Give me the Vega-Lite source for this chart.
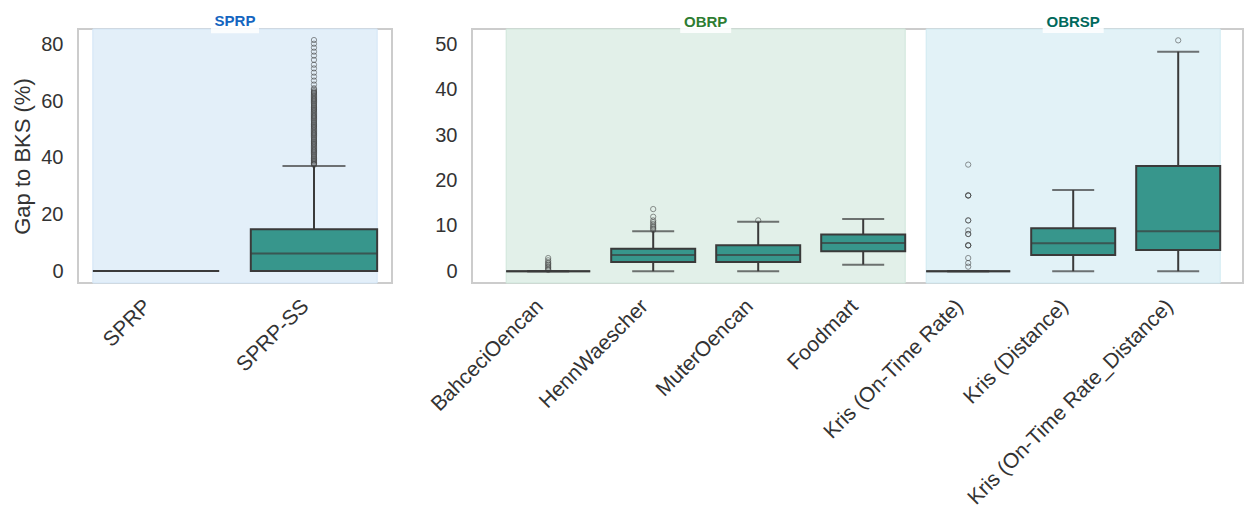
{
  "$schema": "https://vega.github.io/schema/vega-lite/v6.json",
  "autosize": {"type": "pad"},
  "padding": {"left": 10, "top": 11, "right": 0, "bottom": 0},
  "background": "white",
  "bounds": "flush",
  "spacing": 80,
  "config": {
    "font": "Liberation Sans",
    "view": {"stroke": "#cccccc", "strokeWidth": 2},
    "axis": {"grid": false, "domain": false, "ticks": false, "tickSize": 0, "labelFontSize": 20, "labelColor": "#333333", "titleColor": "#333333", "titleFontSize": 22, "titleFontWeight": "normal", "labelPadding": 15, "labelLimit": 400}
  },
  "datasets": {
    "stats": [
      {"panel": "SPRP", "cat": "SPRP", "lo": 0, "q1": 0, "med": 0, "q3": 0, "hi": 0},
      {"panel": "SPRP", "cat": "SPRP-SS", "lo": 0, "q1": 0, "med": 6.2, "q3": 14.8, "hi": 37.1},
      {"panel": "R", "cat": "BahceciOencan", "lo": 0, "q1": 0, "med": 0, "q3": 0, "hi": 0},
      {"panel": "R", "cat": "HennWaescher", "lo": 0, "q1": 2.05, "med": 3.55, "q3": 4.95, "hi": 8.8},
      {"panel": "R", "cat": "MuterOencan", "lo": 0, "q1": 2.05, "med": 3.55, "q3": 5.75, "hi": 10.9},
      {"panel": "R", "cat": "Foodmart", "lo": 1.45, "q1": 4.4, "med": 6.2, "q3": 8.1, "hi": 11.5},
      {"panel": "R", "cat": "Kris (On-Time Rate)", "lo": 0, "q1": 0, "med": 0, "q3": 0, "hi": 0},
      {"panel": "R", "cat": "Kris (Distance)", "lo": 0, "q1": 3.55, "med": 6.15, "q3": 9.45, "hi": 17.9},
      {"panel": "R", "cat": "Kris (On-Time Rate_Distance)", "lo": 0, "q1": 4.7, "med": 8.8, "q3": 23.2, "hi": 48.4}
    ],
    "outliers": [
      {"panel": "SPRP", "cat": "SPRP-SS", "v": 81.5}, {"panel": "SPRP", "cat": "SPRP-SS", "v": 80.2}, {"panel": "SPRP", "cat": "SPRP-SS", "v": 78.8}, {"panel": "SPRP", "cat": "SPRP-SS", "v": 77.4}, {"panel": "SPRP", "cat": "SPRP-SS", "v": 76.0}, {"panel": "SPRP", "cat": "SPRP-SS", "v": 74.5}, {"panel": "SPRP", "cat": "SPRP-SS", "v": 72.8}, {"panel": "SPRP", "cat": "SPRP-SS", "v": 71.5}, {"panel": "SPRP", "cat": "SPRP-SS", "v": 70.0}, {"panel": "SPRP", "cat": "SPRP-SS", "v": 68.6}, {"panel": "SPRP", "cat": "SPRP-SS", "v": 67.2}, {"panel": "SPRP", "cat": "SPRP-SS", "v": 65.8},
      {"panel": "SPRP", "cat": "SPRP-SS", "v": 64.5}, {"panel": "SPRP", "cat": "SPRP-SS", "v": 63.5}, {"panel": "SPRP", "cat": "SPRP-SS", "v": 62.8}, {"panel": "SPRP", "cat": "SPRP-SS", "v": 62.0}, {"panel": "SPRP", "cat": "SPRP-SS", "v": 61.2}, {"panel": "SPRP", "cat": "SPRP-SS", "v": 60.5}, {"panel": "SPRP", "cat": "SPRP-SS", "v": 59.8}, {"panel": "SPRP", "cat": "SPRP-SS", "v": 59.0}, {"panel": "SPRP", "cat": "SPRP-SS", "v": 58.2}, {"panel": "SPRP", "cat": "SPRP-SS", "v": 57.5}, {"panel": "SPRP", "cat": "SPRP-SS", "v": 56.8}, {"panel": "SPRP", "cat": "SPRP-SS", "v": 56.0},
      {"panel": "SPRP", "cat": "SPRP-SS", "v": 55.2}, {"panel": "SPRP", "cat": "SPRP-SS", "v": 54.5}, {"panel": "SPRP", "cat": "SPRP-SS", "v": 53.8}, {"panel": "SPRP", "cat": "SPRP-SS", "v": 53.0}, {"panel": "SPRP", "cat": "SPRP-SS", "v": 52.2}, {"panel": "SPRP", "cat": "SPRP-SS", "v": 51.5}, {"panel": "SPRP", "cat": "SPRP-SS", "v": 50.8}, {"panel": "SPRP", "cat": "SPRP-SS", "v": 50.0}, {"panel": "SPRP", "cat": "SPRP-SS", "v": 49.2}, {"panel": "SPRP", "cat": "SPRP-SS", "v": 48.5}, {"panel": "SPRP", "cat": "SPRP-SS", "v": 47.8}, {"panel": "SPRP", "cat": "SPRP-SS", "v": 47.0},
      {"panel": "SPRP", "cat": "SPRP-SS", "v": 46.2}, {"panel": "SPRP", "cat": "SPRP-SS", "v": 45.5}, {"panel": "SPRP", "cat": "SPRP-SS", "v": 44.8}, {"panel": "SPRP", "cat": "SPRP-SS", "v": 44.0}, {"panel": "SPRP", "cat": "SPRP-SS", "v": 43.2}, {"panel": "SPRP", "cat": "SPRP-SS", "v": 42.5}, {"panel": "SPRP", "cat": "SPRP-SS", "v": 41.8}, {"panel": "SPRP", "cat": "SPRP-SS", "v": 41.0}, {"panel": "SPRP", "cat": "SPRP-SS", "v": 40.2}, {"panel": "SPRP", "cat": "SPRP-SS", "v": 39.5}, {"panel": "SPRP", "cat": "SPRP-SS", "v": 38.8}, {"panel": "SPRP", "cat": "SPRP-SS", "v": 38.0}, {"panel": "SPRP", "cat": "SPRP-SS", "v": 37.5},
      {"panel": "SPRP", "cat": "SPRP-SS", "v": 37.8}, {"panel": "SPRP", "cat": "SPRP-SS", "v": 38.4}, {"panel": "SPRP", "cat": "SPRP-SS", "v": 39.1}, {"panel": "SPRP", "cat": "SPRP-SS", "v": 39.8}, {"panel": "SPRP", "cat": "SPRP-SS", "v": 40.6}, {"panel": "SPRP", "cat": "SPRP-SS", "v": 41.4}, {"panel": "SPRP", "cat": "SPRP-SS", "v": 42.1}, {"panel": "SPRP", "cat": "SPRP-SS", "v": 42.8}, {"panel": "SPRP", "cat": "SPRP-SS", "v": 43.6}, {"panel": "SPRP", "cat": "SPRP-SS", "v": 44.4}, {"panel": "SPRP", "cat": "SPRP-SS", "v": 45.1}, {"panel": "SPRP", "cat": "SPRP-SS", "v": 45.8},
      {"panel": "SPRP", "cat": "SPRP-SS", "v": 46.6}, {"panel": "SPRP", "cat": "SPRP-SS", "v": 47.4}, {"panel": "SPRP", "cat": "SPRP-SS", "v": 48.1}, {"panel": "SPRP", "cat": "SPRP-SS", "v": 48.8}, {"panel": "SPRP", "cat": "SPRP-SS", "v": 49.6}, {"panel": "SPRP", "cat": "SPRP-SS", "v": 50.4}, {"panel": "SPRP", "cat": "SPRP-SS", "v": 51.1}, {"panel": "SPRP", "cat": "SPRP-SS", "v": 51.8}, {"panel": "SPRP", "cat": "SPRP-SS", "v": 52.6}, {"panel": "SPRP", "cat": "SPRP-SS", "v": 53.4}, {"panel": "SPRP", "cat": "SPRP-SS", "v": 54.1}, {"panel": "SPRP", "cat": "SPRP-SS", "v": 54.8},
      {"panel": "SPRP", "cat": "SPRP-SS", "v": 55.6}, {"panel": "SPRP", "cat": "SPRP-SS", "v": 56.4}, {"panel": "SPRP", "cat": "SPRP-SS", "v": 57.1}, {"panel": "SPRP", "cat": "SPRP-SS", "v": 57.8}, {"panel": "SPRP", "cat": "SPRP-SS", "v": 58.6}, {"panel": "SPRP", "cat": "SPRP-SS", "v": 59.4}, {"panel": "SPRP", "cat": "SPRP-SS", "v": 60.1}, {"panel": "SPRP", "cat": "SPRP-SS", "v": 60.8}, {"panel": "SPRP", "cat": "SPRP-SS", "v": 61.6}, {"panel": "SPRP", "cat": "SPRP-SS", "v": 62.4}, {"panel": "SPRP", "cat": "SPRP-SS", "v": 63.1}, {"panel": "SPRP", "cat": "SPRP-SS", "v": 64.0},
      {"panel": "R", "cat": "BahceciOencan", "v": 2.9}, {"panel": "R", "cat": "BahceciOencan", "v": 2.4}, {"panel": "R", "cat": "BahceciOencan", "v": 2.0}, {"panel": "R", "cat": "BahceciOencan", "v": 1.7}, {"panel": "R", "cat": "BahceciOencan", "v": 1.4}, {"panel": "R", "cat": "BahceciOencan", "v": 1.1}, {"panel": "R", "cat": "BahceciOencan", "v": 0.8}, {"panel": "R", "cat": "BahceciOencan", "v": 0.5}, {"panel": "R", "cat": "BahceciOencan", "v": 0.3},
      {"panel": "R", "cat": "HennWaescher", "v": 13.7}, {"panel": "R", "cat": "HennWaescher", "v": 12.0}, {"panel": "R", "cat": "HennWaescher", "v": 11.2}, {"panel": "R", "cat": "HennWaescher", "v": 10.8}, {"panel": "R", "cat": "HennWaescher", "v": 10.4}, {"panel": "R", "cat": "HennWaescher", "v": 10.0}, {"panel": "R", "cat": "HennWaescher", "v": 9.7}, {"panel": "R", "cat": "HennWaescher", "v": 9.4}, {"panel": "R", "cat": "HennWaescher", "v": 9.1},
      {"panel": "R", "cat": "MuterOencan", "v": 11.2},
      {"panel": "R", "cat": "Kris (On-Time Rate)", "v": 23.5}, {"panel": "R", "cat": "Kris (On-Time Rate)", "v": 16.7}, {"panel": "R", "cat": "Kris (On-Time Rate)", "v": 16.7}, {"panel": "R", "cat": "Kris (On-Time Rate)", "v": 16.7}, {"panel": "R", "cat": "Kris (On-Time Rate)", "v": 11.2}, {"panel": "R", "cat": "Kris (On-Time Rate)", "v": 11.2}, {"panel": "R", "cat": "Kris (On-Time Rate)", "v": 9.0}, {"panel": "R", "cat": "Kris (On-Time Rate)", "v": 8.2}, {"panel": "R", "cat": "Kris (On-Time Rate)", "v": 8.2}, {"panel": "R", "cat": "Kris (On-Time Rate)", "v": 5.7}, {"panel": "R", "cat": "Kris (On-Time Rate)", "v": 5.7}, {"panel": "R", "cat": "Kris (On-Time Rate)", "v": 5.7}, {"panel": "R", "cat": "Kris (On-Time Rate)", "v": 2.9}, {"panel": "R", "cat": "Kris (On-Time Rate)", "v": 1.8}, {"panel": "R", "cat": "Kris (On-Time Rate)", "v": 1.0},
      {"panel": "R", "cat": "Kris (On-Time Rate_Distance)", "v": 50.9}
    ],
    "groups": [
      {"group": "SPRP", "start": "SPRP", "end": "SPRP-SS", "anchor": "SPRP"},
      {"group": "OBRP", "start": "BahceciOencan", "end": "Foodmart", "anchor": "HennWaescher"},
      {"group": "OBRSP", "start": "Kris (On-Time Rate)", "end": "Kris (On-Time Rate_Distance)", "anchor": "Kris (Distance)"}
    ]
  },
  "hconcat": [
    {
      "width": 314,
      "height": 254,
      "layer": [
        {
          "data": {"name": "groups"},
          "transform": [{"filter": "datum.group === 'SPRP'"}],
          "mark": {"type": "rect", "fill": "#e3eff9", "stroke": "#d2e5f6", "strokeWidth": 1},
          "encoding": {
            "x": {"field": "start", "type": "nominal", "bandPosition": 0, "scale": {"domain": ["SPRP", "SPRP-SS"], "paddingInner": 0.2, "paddingOuter": 0.094, "align": 0.5}, "axis": {"title": null, "labelAngle": -45, "labelOffset": -16, "labelPadding": 12, "labelFontSize": 21}},
            "x2": {"field": "end", "bandPosition": 1}
          }
        },
        {
          "data": {"name": "stats"},
          "transform": [{"filter": "datum.panel === 'SPRP'"}],
          "encoding": {
            "x": {"field": "cat", "type": "nominal", "scale": {"domain": ["SPRP", "SPRP-SS"], "paddingInner": 0.2, "paddingOuter": 0.094, "align": 0.5}, "axis": {"title": null, "labelAngle": -45, "labelOffset": -16, "labelPadding": 12, "labelFontSize": 21}}
          },
          "layer": [
            {"mark": {"type": "rule", "color": "#3a3a3a", "strokeWidth": 2}, "encoding": {"y": {"field": "lo", "type": "quantitative", "scale": {"domain": [-4.2, 85.4], "nice": false, "zero": false}, "axis": {"values": [0, 20, 40, 60, 80], "title": "Gap to BKS (%)", "titlePadding": 6}}, "y2": {"field": "hi"}}},
            {"mark": {"type": "tick", "orient": "horizontal", "size": 63, "thickness": 2, "color": "#3a3a3a"}, "encoding": {"y": {"field": "lo", "type": "quantitative"}}},
            {"mark": {"type": "tick", "orient": "horizontal", "size": 63, "thickness": 2, "color": "#3a3a3a"}, "encoding": {"y": {"field": "hi", "type": "quantitative"}}},
            {"mark": {"type": "bar", "stroke": "#3a3a3a", "strokeWidth": 2, "width": {"band": 1}}, "encoding": {"y": {"field": "q1", "type": "quantitative"}, "y2": {"field": "q3"}, "fill": {"field": "cat", "type": "nominal", "scale": {"domain": ["SPRP", "SPRP-SS"], "range": ["#37968c", "#37968c"]}, "legend": null}}},
            {"mark": {"type": "tick", "orient": "horizontal", "size": 126, "thickness": 2, "color": "#3a3a3a"}, "encoding": {"y": {"field": "med", "type": "quantitative"}}}
          ]
        },
        {
          "data": {"name": "outliers"},
          "transform": [{"filter": "datum.panel === 'SPRP'"}],
          "mark": {"type": "point", "shape": "circle", "filled": false, "size": 28, "strokeWidth": 1, "color": "#3a3a3a", "opacity": 0.55},
          "encoding": {
            "x": {"field": "cat", "type": "nominal"},
            "y": {"field": "v", "type": "quantitative"}
          }
        },
        {
          "data": {"name": "groups"},
          "transform": [{"filter": "datum.group === 'SPRP'"}],
          "layer": [
            {"mark": {"type": "point", "shape": "M-1,-0.42H1V0.42H-1Z", "filled": true, "fill": "#ffffff", "fillOpacity": 0.85, "strokeWidth": 0, "size": 2304}, "encoding": {"x": {"field": "anchor", "type": "nominal", "bandPosition": 1.125}, "y": {"datum": 87.5, "type": "quantitative"}}},
            {"mark": {"type": "text", "fontSize": 15, "fontWeight": "bold", "color": "#1565c0", "baseline": "middle", "align": "center"}, "encoding": {"x": {"field": "anchor", "type": "nominal", "bandPosition": 1.125}, "y": {"datum": 88.05, "type": "quantitative"}, "text": {"field": "group"}}}
          ]
        }
      ]
    },
    {
      "width": 771,
      "height": 254,
      "layer": [
        {
          "data": {"name": "groups"},
          "transform": [{"filter": "datum.group === 'OBRP'"}],
          "mark": {"type": "rect", "fill": "#e2f0e9", "stroke": "#cfe6da", "strokeWidth": 1},
          "encoding": {
            "x": {"field": "start", "type": "nominal", "bandPosition": 0, "scale": {"domain": ["BahceciOencan", "HennWaescher", "MuterOencan", "Foodmart", "Kris (On-Time Rate)", "Kris (Distance)", "Kris (On-Time Rate_Distance)"], "paddingInner": 0.2, "paddingOuter": 0.2714, "align": 0.6}, "axis": {"title": null, "labelAngle": -45, "labelOffset": -16, "labelPadding": 12, "labelFontSize": 21}},
            "x2": {"field": "end", "bandPosition": 1}
          }
        },
        {
          "data": {"name": "groups"},
          "transform": [{"filter": "datum.group === 'OBRSP'"}],
          "mark": {"type": "rect", "fill": "#e2f2f7", "stroke": "#d0e9f1", "strokeWidth": 1},
          "encoding": {
            "x": {"field": "start", "type": "nominal", "bandPosition": 0},
            "x2": {"field": "end", "bandPosition": 1}
          }
        },
        {
          "data": {"name": "stats"},
          "transform": [{"filter": "datum.panel === 'R'"}],
          "encoding": {
            "x": {"field": "cat", "type": "nominal"}
          },
          "layer": [
            {"mark": {"type": "rule", "color": "#3a3a3a", "strokeWidth": 2}, "encoding": {"y": {"field": "lo", "type": "quantitative", "scale": {"domain": [-2.6, 53.4], "nice": false, "zero": false}, "axis": {"values": [0, 10, 20, 30, 40, 50], "title": null}}, "y2": {"field": "hi"}}},
            {"mark": {"type": "tick", "orient": "horizontal", "size": 42, "thickness": 2, "color": "#3a3a3a"}, "encoding": {"y": {"field": "lo", "type": "quantitative"}}},
            {"mark": {"type": "tick", "orient": "horizontal", "size": 42, "thickness": 2, "color": "#3a3a3a"}, "encoding": {"y": {"field": "hi", "type": "quantitative"}}},
            {"mark": {"type": "bar", "stroke": "#3a3a3a", "strokeWidth": 2, "width": {"band": 1}}, "encoding": {"y": {"field": "q1", "type": "quantitative"}, "y2": {"field": "q3"}, "fill": {"field": "cat", "type": "nominal", "scale": {"domain": ["BahceciOencan", "HennWaescher", "MuterOencan", "Foodmart", "Kris (On-Time Rate)", "Kris (Distance)", "Kris (On-Time Rate_Distance)"], "range": ["#2e9b8e", "#2e9b8e", "#8ac5bd", "#10766b", "#37968c", "#5aaba1", "#37968c"]}, "legend": null}}},
            {"mark": {"type": "tick", "orient": "horizontal", "size": 84, "thickness": 2, "color": "#3a3a3a"}, "encoding": {"y": {"field": "med", "type": "quantitative"}}}
          ]
        },
        {
          "data": {"name": "outliers"},
          "transform": [{"filter": "datum.panel === 'R'"}],
          "mark": {"type": "point", "shape": "circle", "filled": false, "size": 28, "strokeWidth": 1, "color": "#3a3a3a", "opacity": 0.55},
          "encoding": {
            "x": {"field": "cat", "type": "nominal"},
            "y": {"field": "v", "type": "quantitative"}
          }
        },
        {
          "data": {"name": "groups"},
          "transform": [{"filter": "datum.group === 'OBRP'"}],
          "layer": [
            {"mark": {"type": "point", "shape": "M-1,-0.392H1V0.392H-1Z", "filled": true, "fill": "#ffffff", "fillOpacity": 0.85, "strokeWidth": 0, "size": 2601}, "encoding": {"x": {"field": "anchor", "type": "nominal", "bandPosition": 1.125}, "y": {"datum": 54.7, "type": "quantitative"}}},
            {"mark": {"type": "text", "fontSize": 15, "fontWeight": "bold", "color": "#2e7d32", "baseline": "middle", "align": "center"}, "encoding": {"x": {"field": "anchor", "type": "nominal", "bandPosition": 1.125}, "y": {"datum": 55.05, "type": "quantitative"}, "text": {"field": "group"}}}
          ]
        },
        {
          "data": {"name": "groups"},
          "transform": [{"filter": "datum.group === 'OBRSP'"}],
          "layer": [
            {"mark": {"type": "point", "shape": "M-1,-0.328H1V0.328H-1Z", "filled": true, "fill": "#ffffff", "fillOpacity": 0.85, "strokeWidth": 0, "size": 3721}, "encoding": {"x": {"field": "anchor", "type": "nominal", "bandPosition": 0.5}, "y": {"datum": 54.7, "type": "quantitative"}}},
            {"mark": {"type": "text", "fontSize": 15, "fontWeight": "bold", "color": "#00695c", "baseline": "middle", "align": "center"}, "encoding": {"x": {"field": "anchor", "type": "nominal", "bandPosition": 0.5}, "y": {"datum": 55.05, "type": "quantitative"}, "text": {"field": "group"}}}
          ]
        }
      ]
    }
  ]
}
